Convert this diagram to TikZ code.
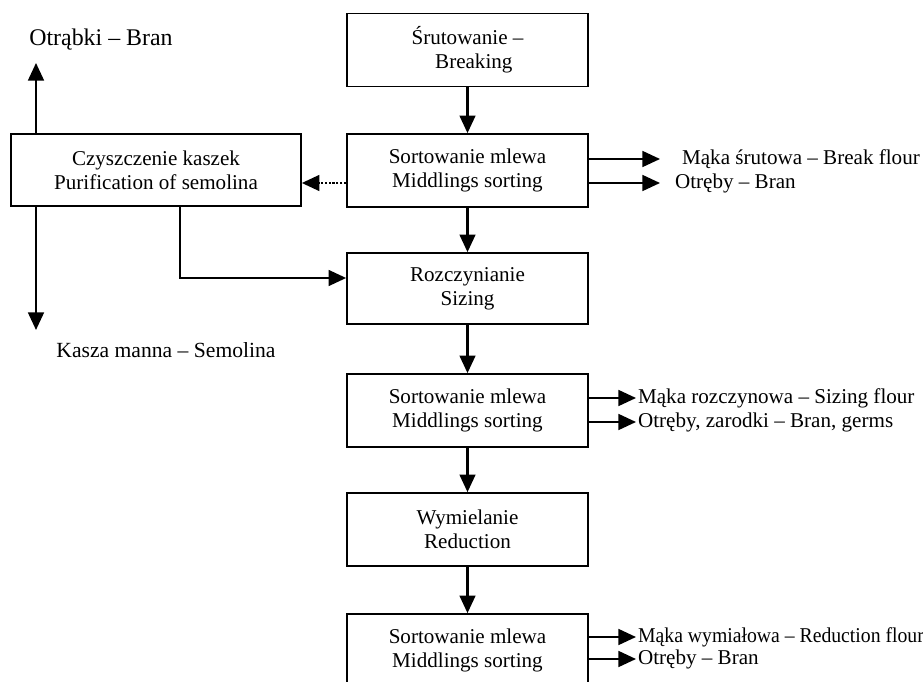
\documentclass[tikz,border=0pt]{standalone}
\usepackage{fontspec}
\setmainfont{Liberation Serif}
\usetikzlibrary{arrows.meta}
\tikzset{
  stage/.style={rectangle, draw, line width=1pt, align=center,
                minimum width=4.82cm, minimum height=1.46cm, inner sep=0pt},
  flow/.style={-{Triangle[length=10pt,width=9pt]}, line width=1.2pt},
  outlbl/.style={anchor=west, inner sep=1pt},
}

\begin{document}
\begin{tikzpicture}[x=0.02cm, y=-0.02cm, font=\fontsize{12}{13.8}\selectfont]
  \useasboundingbox (0,0) rectangle (923,682);
  \clip (0,0) rectangle (923,682);

  % -- main line --------------------------------------------------------------
  \node[stage] at (467.5, 50.0) (srut)  {Śrutowanie –\\\hspace{0.6em}Breaking};
  \node[stage] at (467.5,170.5) (sort1) {Sortowanie mlewa\\Middlings sorting};
  \node[stage, minimum height=1.42cm] at (467.5,288.5) (rozcz)
      {Rozczynianie\\Sizing};
  \node[stage] at (467.5,410.5) (sort2) {Sortowanie mlewa\\Middlings sorting};
  \node[stage] at (467.5,529.5) (wym)   {Wymielanie\\Reduction};
  \node[stage] at (467.5,650.5) (sort3) {Sortowanie mlewa\\Middlings sorting};

  % -- side branch ------------------------------------------------------------
  \node[stage, minimum width=5.8cm, minimum height=1.44cm] at (156,170) (czysz)
      {Czyszczenie kaszek\\Purification of semolina};
  \node[font=\fontsize{13.6}{15}\selectfont] at (101, 40) (otrab)
      {Otrąbki – Bran};
  \node[font=\fontsize{12.3}{14}\selectfont] at (166,350) (kasza)
      {Kasza manna – Semolina};

  % -- outputs ----------------------------------------------------------------
  \node[outlbl] at (680,159) (bflour) {Mąka śrutowa – Break flour};
  \node[outlbl] at (673,183) (bran1)  {Otręby – Bran};
  \node[outlbl] at (636,398) (sflour) {Mąka rozczynowa – Sizing flour};
  \node[outlbl] at (636,422) (bran2)  {Otręby, zarodki – Bran, germs};
  \node[outlbl] at (636,637) (rflour)
      {\scalebox{0.935}[1]{Mąka wymiałowa – Reduction flour}};
  \node[outlbl] at (636,659) (bran3)  {Otręby – Bran};

  \coordinate (b1end) at (660,159);
  \coordinate (b2end) at (660,183);
  \coordinate (upend) at (36,63);
  \coordinate (dnend) at (36,330);
  \coordinate (dotrow) at (320,183);
  \coordinate (elb) at (180,278);

  % -- arrows -----------------------------------------------------------------
  \draw[flow] (srut)  -- (sort1);
  \draw[flow] (sort1) -- (rozcz);
  \draw[flow] (rozcz) -- (sort2);
  \draw[flow] (sort2) -- (wym);
  \draw[flow] (wym)   -- (sort3);

  \draw[flow] (sort1.east |- b1end) -- (b1end);
  \draw[flow] (sort1.east |- b2end) -- (b2end);
  \draw[flow] (sort2.east |- sflour) -- (sflour.west);
  \draw[flow] (sort2.east |- bran2)  -- (bran2.west);
  \draw[flow] (sort3.east |- rflour) -- (rflour.west);
  \draw[flow] (sort3.east |- bran3)  -- (bran3.west);

  \draw[flow, densely dotted] (sort1.west |- dotrow) -- (czysz.east |- dotrow);
  \draw[flow] (czysz.north -| upend) -- (upend);
  \draw[flow] (czysz.south -| dnend) -- (dnend);
  \draw[flow] (czysz.south -| elb) |- (rozcz.west |- elb);
\end{tikzpicture}
\end{document}
